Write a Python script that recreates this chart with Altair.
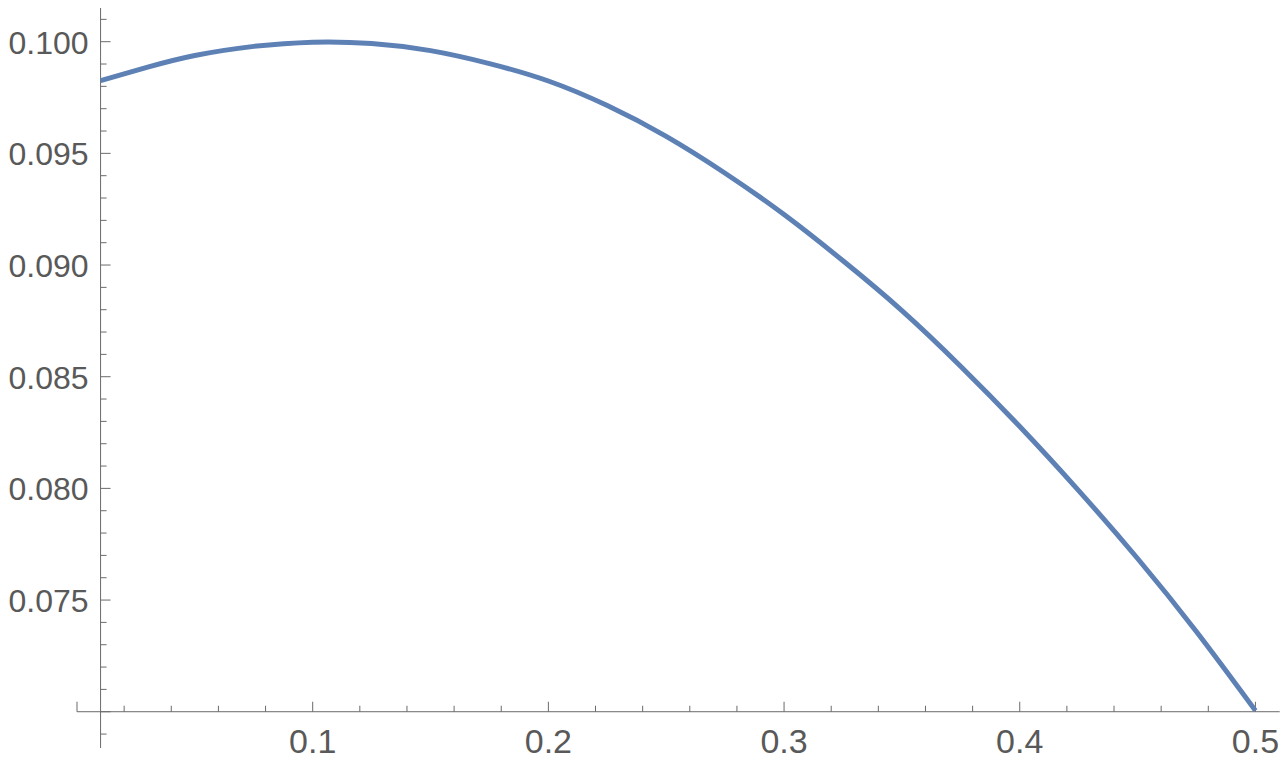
import altair as alt
import pandas as pd

# ---- data ----
x_vals = [0.01, 0.03, 0.05, 0.075, 0.10, 0.125, 0.15, 0.175, 0.20, 0.225, 0.25,
          0.275, 0.30, 0.325, 0.35, 0.375, 0.40, 0.425, 0.45, 0.475, 0.50]
y_vals = [0.09826, 0.09886, 0.09938, 0.09979, 0.09998, 0.09992, 0.09960, 0.09902,
          0.09824, 0.09714, 0.09576, 0.09411, 0.09226, 0.09019, 0.08796, 0.08546,
          0.08277, 0.07990, 0.07686, 0.07358, 0.07005]

x_major = [0.0, 0.1, 0.2, 0.3, 0.4, 0.5]
x_minor = [0.02, 0.04, 0.06, 0.08, 0.12, 0.14, 0.16, 0.18, 0.22, 0.24, 0.26, 0.28,
           0.32, 0.34, 0.36, 0.38, 0.42, 0.44, 0.46, 0.48]
x_label_vals = [0.1, 0.2, 0.3, 0.4, 0.5]
x_label_text = ["0.1", "0.2", "0.3", "0.4", "0.5"]

y_major = [0.070, 0.075, 0.080, 0.085, 0.090, 0.095, 0.100]
y_minor = [0.069, 0.071, 0.072, 0.073, 0.074, 0.076, 0.077, 0.078, 0.079, 0.081,
           0.082, 0.083, 0.084, 0.086, 0.087, 0.088, 0.089, 0.091, 0.092, 0.093,
           0.094, 0.096, 0.097, 0.098, 0.099, 0.101]
y_label_vals = [0.075, 0.080, 0.085, 0.090, 0.095, 0.100]
y_label_text = ["0.075", "0.080", "0.085", "0.090", "0.095", "0.100"]

# axes origin and extents (Mathematica-style crossing axes)
x_axis_at = 0.07
y_axis_at = 0.01
x_axis_range = [0.0, 0.5103]
y_axis_range = [0.068376, 0.101508]

x_domain = [0.0, 0.51]
y_domain = [0.068376, 0.101508]

AXIS_COLOR = "#6a6a6a"
LABEL_COLOR = "#595959"
LINE_COLOR = "#5E81B5"
FONT = "Liberation Sans"

XS = alt.Scale(domain=x_domain, nice=False, zero=False)
YS = alt.Scale(domain=y_domain, nice=False, zero=False)


def X(field="x"):
    return alt.X(f"{field}:Q", scale=XS, axis=None)


def Y(field="y"):
    return alt.Y(f"{field}:Q", scale=YS, axis=None)


curve_df = pd.DataFrame({"x": x_vals, "y": y_vals})

xaxis_df = pd.DataFrame({"x": [x_axis_range[0]], "x2": [x_axis_range[1]], "y": [x_axis_at]})
yaxis_df = pd.DataFrame({"x": [y_axis_at], "y": [y_axis_range[0]], "y2": [y_axis_range[1]]})

xmaj_df = pd.DataFrame({"x": x_major, "y": [x_axis_at] * len(x_major)})
xmin_df = pd.DataFrame({"x": x_minor, "y": [x_axis_at] * len(x_minor)})
ymaj_df = pd.DataFrame({"y": y_major, "x": [y_axis_at] * len(y_major)})
ymin_df = pd.DataFrame({"y": y_minor, "x": [y_axis_at] * len(y_minor)})

xlab_df = pd.DataFrame({"x": x_label_vals, "y": [x_axis_at] * len(x_label_vals), "t": x_label_text})
ylab_df = pd.DataFrame({"y": y_label_vals, "x": [y_axis_at] * len(y_label_vals), "t": y_label_text})

xaxis = alt.Chart(xaxis_df).mark_rule(color=AXIS_COLOR, strokeWidth=1).encode(
    x=X(), x2="x2:Q", y=Y())
yaxis = alt.Chart(yaxis_df).mark_rule(color=AXIS_COLOR, strokeWidth=1).encode(
    x=X(), y=Y(), y2="y2:Q")

xmaj = alt.Chart(xmaj_df).mark_tick(orient="vertical", size=10, thickness=1, yOffset=-5,
                                    color=AXIS_COLOR, opacity=1).encode(x=X(), y=Y())
xmin = alt.Chart(xmin_df).mark_tick(orient="vertical", size=6, thickness=1, yOffset=-3,
                                    color=AXIS_COLOR, opacity=1).encode(x=X(), y=Y())
ymaj = alt.Chart(ymaj_df).mark_tick(orient="horizontal", size=10, thickness=1, xOffset=5,
                                    color=AXIS_COLOR, opacity=1).encode(x=X(), y=Y())
ymin = alt.Chart(ymin_df).mark_tick(orient="horizontal", size=6, thickness=1, xOffset=3,
                                    color=AXIS_COLOR, opacity=1).encode(x=X(), y=Y())

xlab = alt.Chart(xlab_df).mark_text(font=FONT, fontSize=34, color=LABEL_COLOR, align="center",
                                    baseline="alphabetic", dy=41).encode(x=X(), y=Y(), text="t:N")
ylab = alt.Chart(ylab_df).mark_text(font=FONT, fontSize=32, color=LABEL_COLOR, align="right",
                                    baseline="alphabetic", dx=-12, dy=12).encode(x=X(), y=Y(), text="t:N")

curve = alt.Chart(curve_df).mark_line(color=LINE_COLOR, strokeWidth=5, interpolate="natural",
                                      strokeCap="butt").encode(x=X(), y=Y())

chart = alt.layer(xaxis, yaxis, xmaj, xmin, ymaj, ymin, xlab, ylab, curve).properties(
    width=1202,
    height=740,
    padding={"left": 69, "top": 0, "right": 1, "bottom": 12},
    autosize=alt.AutoSizeParams(type="none"),
    background="white",
).configure_view(stroke=None)

chart.save("out.html", embed_options={"renderer": "svg", "actions": False})
